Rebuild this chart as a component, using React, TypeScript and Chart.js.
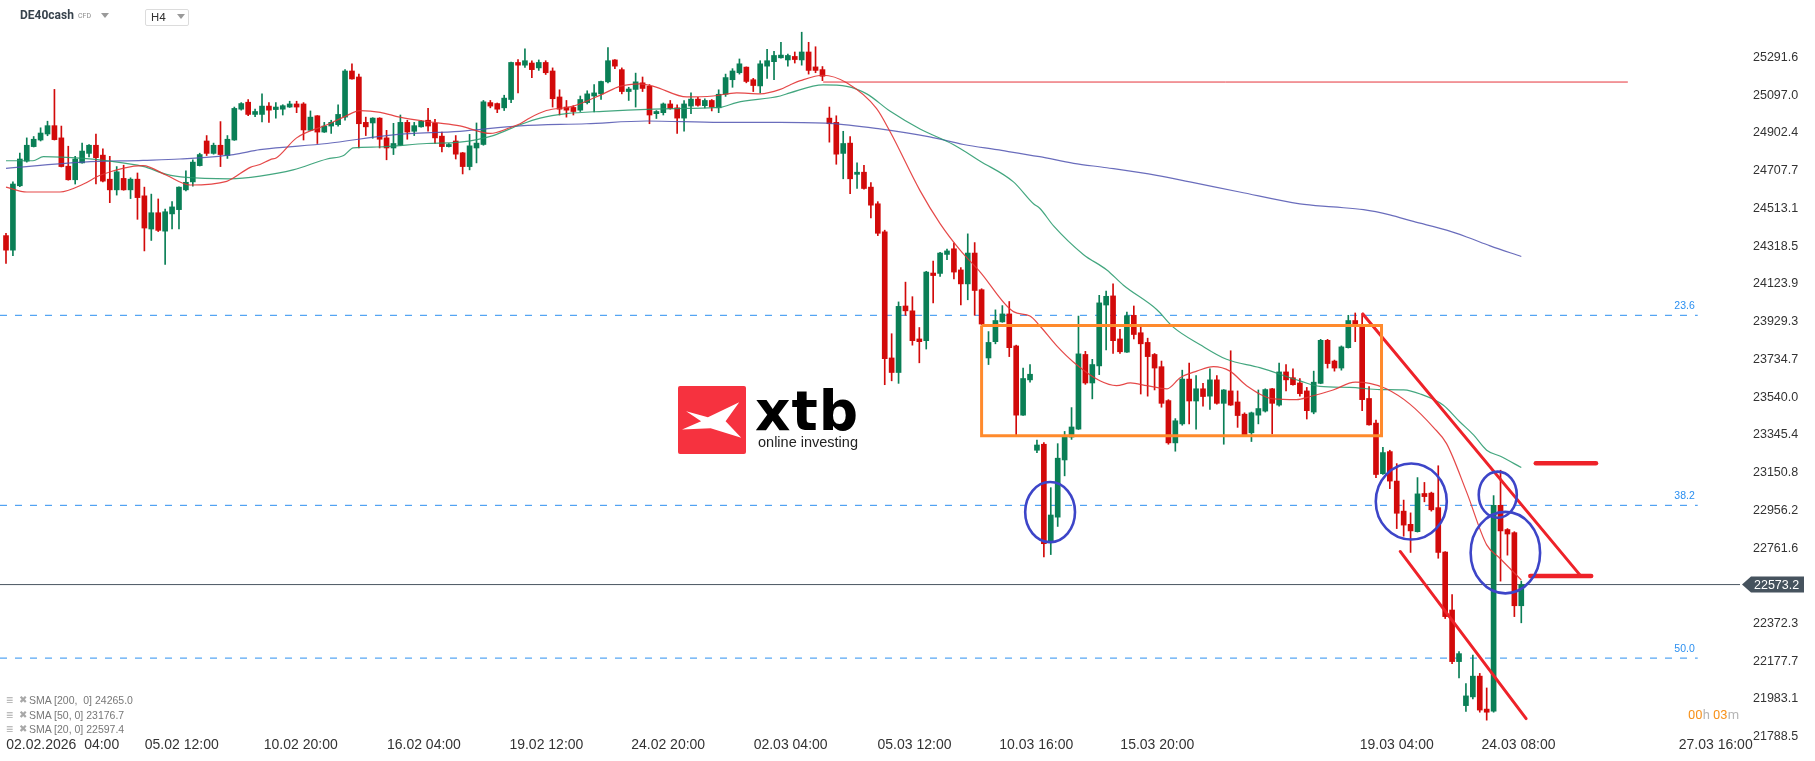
import React, { useEffect, useRef } from 'react';
import { Chart, registerables } from 'chart.js';

Chart.register(...registerables);

// ---------- candle data (H4, index 0..219) ----------
const OPEN = [
  24373,24298,24630,24757,24832,24866,24897,24940,24877,24731,
  24661,24748,24797,24839,24788,24664,24609,24668,24609,24664,
  24578,24407,24491,24396,24485,24507,24609,24650,24734,24861,
  24797,24839,24786,24866,25025,25061,24998,24998,25041,25023,
  25025,25036,25052,25052,24916,24991,24907,24938,24945,24984,
  25222,25191,24957,24954,24979,24877,24825,24839,24957,24911,
  24934,24968,24952,24886,24832,24861,24800,24729,24825,24843,
  25059,25054,25032,25075,25266,25252,25263,25238,25266,25222,
  25088,25036,25034,25020,25059,25093,25104,25166,25279,25229,
  25116,25127,25161,25143,25002,25007,25052,25032,24979,25041,
  25077,25043,25070,25032,25102,25177,25213,25242,25177,25145,
  25247,25270,25290,25279,25297,25279,25320,25243,25229,24979,
  24957,24797,24850,24689,24700,24623,24537,24392,23742,23667,
  24010,23985,23840,23831,24180,24178,24276,24305,24196,24124,
  24283,24094,23742,23826,23928,23969,23804,23447,23629,23266,
  23297,22789,22921,23216,23334,23375,23760,23613,23701,24015,
  24062,23840,23772,23962,23872,23822,23760,23697,23522,23304,
  23402,23633,23520,23583,23545,23629,23508,23572,23515,23452,
  23356,23447,23468,23583,23499,23670,23640,23613,23572,23463,
  23611,23833,23726,23690,23795,23935,23913,23533,23406,23145,
  23259,23107,22952,22884,22846,23043,23045,22970,22741,22442,
  22176,21949,21994,22101,21931,21920,22982,22857,22841,22464,
];
const HIGH = [
  24385,24650,24798,24877,24884,24929,24963,25127,24938,24834,
  24782,24850,24842,24897,24820,24782,24729,24736,24671,24696,
  24623,24587,24562,24510,24548,24625,24707,24764,24798,24889,
  24850,24961,24889,25036,25059,25075,25025,25104,25059,25059,
  25048,25066,25066,25059,25016,24992,24957,24968,25048,25229,
  25259,25206,24984,24981,24981,24916,24952,24995,24968,24957,
  24968,25029,24973,24907,24848,24889,24802,24895,24954,25070,
  25070,25057,25097,25268,25281,25336,25275,25279,25275,25238,
  25125,25070,25043,25093,25120,25152,25170,25343,25281,25238,
  25138,25211,25191,25152,25018,25057,25070,25048,25070,25109,
  25086,25079,25075,25125,25206,25234,25284,25243,25184,25275,
  25334,25324,25370,25309,25320,25422,25370,25347,25245,25036,
  24991,24911,24884,24748,24736,24646,24548,24401,23867,24031,
  24133,24058,23899,24189,24242,24287,24303,24335,24208,24382,
  24337,24099,23878,23990,24012,24033,23808,23690,23708,23318,
  23306,23073,23300,23363,23486,23958,23776,23735,24065,24087,
  24124,23890,23978,24010,23908,23844,23765,23726,23527,23429,
  23679,23715,23651,23611,23686,23651,23579,23779,23572,23459,
  23463,23577,23583,23585,23715,23708,23686,23636,23590,23674,
  23838,23838,23731,23804,23962,23974,23969,23595,23422,23281,
  23266,23197,23009,22943,23125,23100,23050,23186,22743,22521,
  22228,22062,22210,22115,22040,23032,23163,22862,22846,22591,
];
const LOW = [
  24230,24269,24625,24752,24830,24861,24888,24866,24727,24659,
  24639,24746,24779,24639,24650,24543,24582,24607,24564,24457,
  24294,24348,24394,24224,24407,24407,24603,24628,24732,24786,
  24793,24729,24771,24864,25020,24991,24986,24959,24957,24979,
  24995,25034,25007,24866,24914,24848,24905,24900,24938,24968,
  25180,24825,24889,24875,24825,24764,24791,24837,24870,24889,
  24932,24911,24848,24805,24830,24768,24691,24712,24748,24839,
  25032,25007,25018,25059,25109,25240,25188,25225,25204,25036,
  24995,24984,24995,25013,25052,25011,25075,25161,25234,25104,
  25070,25036,25116,24950,24977,24995,25025,24900,24911,25002,
  25041,25032,25016,25007,25091,25138,25206,25161,25116,25109,
  25184,25177,25288,25247,25263,25252,25206,25213,25172,24855,
  24741,24666,24589,24616,24612,24464,24373,23604,23624,23611,
  23962,23808,23717,23788,24026,24162,24249,24149,24015,24042,
  23962,23913,23708,23815,23926,23749,23345,23445,23617,23254,
  22716,22728,22873,23134,23322,23373,23606,23531,23656,23783,
  23765,23765,23770,23840,23556,23545,23577,23488,23297,23261,
  23395,23402,23375,23493,23477,23504,23297,23497,23384,23343,
  23311,23402,23463,23350,23493,23572,23601,23545,23427,23454,
  23609,23690,23674,23679,23793,23826,23470,23395,23125,23141,
  23068,22862,22823,22739,22844,23000,22952,22709,22398,22165,
  22092,21919,21983,21915,21874,21915,22591,22725,22408,22376,
];
const CLOSE = [
  24298,24639,24768,24839,24870,24902,24940,24868,24729,24661,
  24768,24809,24839,24775,24654,24609,24702,24609,24664,24569,
  24412,24491,24400,24496,24521,24623,24648,24752,24791,24797,
  24839,24791,24870,25029,25054,24998,25013,25041,25020,25036,
  25043,25052,25036,24918,24984,24907,24938,24957,24998,25222,
  25181,24950,24934,24979,24870,24825,24848,24957,24907,24940,
  24963,24938,24877,24832,24843,24793,24729,24836,24850,25063,
  25041,25025,25082,25266,25252,25275,25229,25266,25213,25079,
  25025,25020,25013,25075,25104,25109,25168,25275,25247,25116,
  25129,25166,25132,24995,25013,25052,25029,24979,25052,25077,
  25045,25070,25036,25102,25188,25222,25259,25168,25147,25259,
  25275,25302,25304,25302,25281,25320,25225,25225,25195,24950,
  24793,24848,24666,24700,24616,24530,24385,23738,23667,24008,
  23985,23831,23826,24185,24167,24283,24294,24185,24124,24283,
  24090,23917,23822,23935,23969,23795,23447,23636,23658,23293,
  22784,22932,23225,23334,23386,23763,23613,23708,24026,24060,
  23831,23774,23960,23863,23815,23749,23690,23508,23304,23418,
  23633,23520,23583,23543,23629,23508,23577,23499,23445,23345,
  23459,23481,23579,23508,23670,23629,23604,23558,23470,23617,
  23833,23713,23690,23799,23935,23917,23527,23397,23141,23254,
  23107,22941,22880,22850,23041,23027,22959,22739,22408,22176,
  22217,21999,22101,21926,21915,22982,22850,22834,22464,22573.2,
];

// ---------- moving averages ----------
const SMA20_X = [0,3,7.8,11.2,13.6,19.8,23.2,26.6,31.9,35.3,36.7,38.2,39.1,42,46.4,48.8,51.2,54.1,56.9,61.8,65.6,70,72.8,74.3,75.7,78.1,82,86.3,88.7,91.6,93.6,98.4,102.2,105.6,109,111.9,113.3,114.8,118.1,121.5,125.8,127.8,132.1,135,137.9,140.8,145.6,148,149.4,151.9,154.3,158.1,160.5,162.5,164.9,167.8,169.7,172.1,174.5,176.9,179.3,183.2,186.5,188.5,191.8,195,197.1,199.5,202.9,206.3,208.2,211.1,214,215.9,219];
const SMA20_Y = [24623,24598,24598,24639,24684,24734,24684,24634,24653,24725,24740,24765,24775,24877,24945,24984,25018,25009,24984,24957,24939,24900,24929,24950,24980,25018,25041,25104,25143,25156,25143,25088,25093,25109,25104,25127,25150,25172,25200,25161,25029,24907,24605,24435,24298,24185,23981,23958,23908,23803,23720,23624,23599,23613,23599,23583,23640,23674,23697,23674,23599,23531,23527,23543,23577,23617,23611,23583,23504,23384,23300,23050,22778,22709,22597];
const SMA50_X = [0,3.9,5.4,11.2,14.6,19.8,23.2,26.1,32.4,36.7,41.5,46.4,48.8,50.2,53.6,60.8,65.6,70.4,74.3,77.2,81,86.3,93.6,98.4,103.2,105.6,111.9,113.3,118.1,121.5,124.4,127.8,132.1,136.9,140.8,145.6,148.5,149.4,151.4,155.7,159.1,161.5,166.3,168.7,172.6,176.4,181.2,187,189.9,194.2,198.6,202,204.4,207.7,210.1,212.1,214,215.9,219];
const SMA50_Y = [24759,24759,24780,24771,24759,24730,24689,24673,24666,24680,24712,24768,24786,24825,24830,24848,24855,24889,24945,24979,25002,25014,25025,25029,25034,25059,25093,25109,25150,25143,25104,25014,24923,24843,24757,24650,24537,24514,24423,24276,24196,24117,23992,23901,23810,23735,23692,23624,23595,23590,23579,23577,23556,23499,23413,23345,23266,23236,23177];
const SMA200_X = [0,11.2,19.8,25.1,32.9,36.7,46.4,56,65.6,74.3,83.9,92.6,103.2,111.9,119.1,126.3,133.5,138.4,143.2,149.4,154.3,159.1,166.3,171.1,178.3,187,191.8,196.2,200,203.4,208.2,211.1,214.5,219];
const SMA200_Y = [24720,24752,24761,24768,24791,24816,24848,24893,24911,24939,24950,24964,24957,24957,24952,24923,24882,24843,24816,24780,24746,24723,24684,24650,24598,24537,24521,24507,24480,24446,24401,24366,24320,24265];

// ---------- axes ----------
const Y_TICKS = [25291.6,25097.0,24902.4,24707.7,24513.1,24318.5,24123.9,23929.3,23734.7,23540.0,23345.4,23150.8,22956.2,22761.6,22372.3,22177.7,21983.1,21788.5];
const X_TICK_POS = [8.2,25.4,42.6,60.4,78.1,95.7,113.4,131.3,148.9,166.4,201.0,218.6,247.1];
const X_TICK_LABELS = ['02.02.2026  04:00','05.02 12:00','10.02 20:00','16.02 04:00','19.02 12:00','24.02 20:00','02.03 04:00','05.03 12:00','10.03 16:00','15.03 20:00','19.03 04:00','24.03 08:00','27.03 16:00'];
const X_MIN = -0.867;
const X_MAX = 250.61;
const Y_MIN = 21787.1;
const Y_MAX = 25433.4;

// ---------- drawings ----------
const LAST_PRICE = 22573.2;
const FIB_LEVELS = [23962, 22982, 22194];
const FIB_LABELS = ['23.6', '38.2', '50.0'];
const FIB_END = 244.5;
const RES_LEVEL = 25165;
const RES_RANGE = [118.1, 234.4];
const BOX_X = [141.0, 198.8];
const BOX_Y = [23341, 23910];
const TREND_X1 = [196.1, 201.5];
const TREND_Y1 = [23969, 22744];
const TREND_X2 = [227.5, 219.7];
const TREND_Y2 = [22622, 21882];
const FLAG_X1 = [220.3, 221.1];
const FLAG_X2 = [229.1, 229.8];
const FLAG_Y = [22617, 23199];
const ELLIPSE_X = [150.9, 203.1, 215.6, 216.7];
const ELLIPSE_Y = [22947, 23002, 23037, 22738];
const ELLIPSE_RX = [3.6, 5.13, 2.75, 5.02];
const ELLIPSE_RY = [155, 196, 119, 210];
const LEGEND_ROWS = ['SMA [200,  0] 24265.0', 'SMA [50, 0] 23176.7', 'SMA [20, 0] 22597.4'];

const GREEN = '#0a7f56';
const RED = '#d20a0a';
const MARK_RED = '#ee2229';
const ORANGE = '#ff8a2c';
const FIB_BLUE = '#2b8ff0';
const CIRCLE_BLUE = '#3d45c8';
const FONT = '"Liberation Sans", Arial, sans-serif';

export default function App() {
  const ref = useRef<HTMLCanvasElement | null>(null);

  useEffect(() => {
    const canvas = ref.current;
    if (!canvas) return;
    const ids = OPEN.map((_, i) => i);
    const colors = ids.map((i) => (CLOSE[i] >= OPEN[i] ? GREEN : RED));
    const pts = (xs: number[], ys: number[]) => xs.map((x, i) => ({ x, y: ys[i] }));
    const line = (data: any[], color: string, width: number, order: number, extra: any = {}) => ({
      type: 'line',
      data,
      borderColor: color,
      backgroundColor: color,
      borderWidth: width,
      pointRadius: 0,
      pointHoverRadius: 0,
      fill: false,
      tension: 0,
      order,
      ...extra,
    });

    const datasets: any[] = [];
    datasets.push(
      line(
        [
          { x: BOX_X[0], y: BOX_Y[1] },
          { x: BOX_X[1], y: BOX_Y[1] },
          { x: BOX_X[1], y: BOX_Y[0] },
          { x: BOX_X[0], y: BOX_Y[0] },
          { x: BOX_X[0], y: BOX_Y[1] },
        ],
        ORANGE,
        3,
        0,
        { borderJoinStyle: 'miter' }
      )
    );
    TREND_X1.forEach((x1, k) =>
      datasets.push(
        line([{ x: x1, y: TREND_Y1[k] }, { x: TREND_X2[k], y: TREND_Y2[k] }], MARK_RED, 3, 0, { borderCapStyle: 'round' })
      )
    );
    FLAG_X1.forEach((x1, k) =>
      datasets.push(
        line([{ x: x1, y: FLAG_Y[k] }, { x: FLAG_X2[k], y: FLAG_Y[k] }], MARK_RED, 4.5, 0, { borderCapStyle: 'round' })
      )
    );
    datasets.push(line(pts(SMA20_X, SMA20_Y), 'rgba(226,52,52,0.9)', 1.2, 1, { cubicInterpolationMode: 'monotone' }));
    datasets.push(line(pts(SMA50_X, SMA50_Y), 'rgba(34,150,105,0.85)', 1.2, 1, { cubicInterpolationMode: 'monotone' }));
    datasets.push(line(pts(SMA200_X, SMA200_Y), 'rgba(80,84,176,0.85)', 1.2, 1, { cubicInterpolationMode: 'monotone' }));
    datasets.push({
      type: 'bar',
      data: ids.map((i) => ({ x: i, y: [OPEN[i], CLOSE[i]] })),
      backgroundColor: colors,
      borderWidth: 0,
      barThickness: 5,
      minBarLength: 1,
      grouped: false,
      order: 2,
    });
    datasets.push({
      type: 'bar',
      data: ids.map((i) => ({ x: i, y: [LOW[i], HIGH[i]] })),
      backgroundColor: colors,
      borderWidth: 0,
      barThickness: 1,
      grouped: false,
      order: 3,
    });
    FIB_LEVELS.forEach((lv) =>
      datasets.push(line([{ x: X_MIN, y: lv }, { x: FIB_END, y: lv }], FIB_BLUE, 1, 5, { borderDash: [7, 8] }))
    );
    datasets.push(line([{ x: X_MIN, y: LAST_PRICE }, { x: X_MAX, y: LAST_PRICE }], '#4a5661', 1, 5));
    datasets.push(line([{ x: RES_RANGE[0], y: RES_LEVEL }, { x: RES_RANGE[1], y: RES_LEVEL }], '#e5343b', 1, 5));

    const overlay = {
      id: 'overlay',
      afterDatasetsDraw(chart: any) {
        const { ctx, chartArea } = chart;
        const xs = chart.scales.x;
        const ys = chart.scales.y;
        ctx.save();
        ctx.beginPath();
        ctx.rect(chartArea.left, chartArea.top, chartArea.right - chartArea.left, chartArea.bottom - chartArea.top);
        ctx.clip();
        ctx.strokeStyle = CIRCLE_BLUE;
        ctx.lineWidth = 2.6;
        ELLIPSE_X.forEach((cxv, k) => {
          const cx = xs.getPixelForValue(cxv);
          const cy = ys.getPixelForValue(ELLIPSE_Y[k]);
          const rx = Math.abs(xs.getPixelForValue(cxv + ELLIPSE_RX[k]) - cx);
          const ry = Math.abs(ys.getPixelForValue(ELLIPSE_Y[k] + ELLIPSE_RY[k]) - cy);
          ctx.beginPath();
          ctx.ellipse(cx, cy, rx, ry, 0, 0, Math.PI * 2);
          ctx.stroke();
        });
        ctx.fillStyle = FIB_BLUE;
        ctx.font = '10.5px ' + FONT;
        ctx.textAlign = 'right';
        ctx.textBaseline = 'bottom';
        const fx = xs.getPixelForValue(FIB_END) - 3;
        FIB_LEVELS.forEach((lv, k) => {
          ctx.fillText(FIB_LABELS[k], fx, ys.getPixelForValue(lv) - 4);
        });
        ctx.restore();
      },
      afterDraw(chart: any) {
        const { ctx, chartArea } = chart;
        const ys = chart.scales.y;
        const y = ys.getPixelForValue(LAST_PRICE);
        const x0 = chartArea.right + 2;
        ctx.save();
        ctx.fillStyle = '#46535e';
        ctx.beginPath();
        ctx.moveTo(x0, y);
        ctx.lineTo(x0 + 9, y - 8);
        ctx.lineTo(x0 + 62, y - 8);
        ctx.lineTo(x0 + 62, y + 8);
        ctx.lineTo(x0 + 9, y + 8);
        ctx.closePath();
        ctx.fill();
        ctx.fillStyle = '#ffffff';
        ctx.font = '12.5px ' + FONT;
        ctx.textAlign = 'left';
        ctx.textBaseline = 'middle';
        ctx.fillText(LAST_PRICE.toFixed(1), x0 + 12, y + 0.5);
        ctx.restore();
      },
    };

    const chart = new Chart(canvas, {
      type: 'bar',
      data: { datasets },
      options: {
        animation: false,
        responsive: false,
        devicePixelRatio: 1,
        events: [],
        layout: { padding: { top: 30, left: 0, right: 0, bottom: 0 } },
        plugins: { legend: { display: false }, tooltip: { enabled: false } },
        scales: {
          x: {
            type: 'linear',
            min: X_MIN,
            max: X_MAX,
            bounds: 'data',
            offset: false,
            grid: { display: false, drawTicks: false },
            border: { display: false },
            afterBuildTicks: (scale: any) => {
              scale.ticks = X_TICK_POS.map((v) => ({ value: v }));
            },
            afterFit: (scale: any) => {
              scale.height = 24;
            },
            ticks: {
              autoSkip: false,
              maxRotation: 0,
              padding: 0,
              color: '#333333',
              font: { family: FONT, size: 14 },
              callback: (_v: any, i: number) => X_TICK_LABELS[i],
            },
          },
          y: {
            type: 'linear',
            position: 'right',
            min: Y_MIN,
            max: Y_MAX,
            bounds: 'data',
            beginAtZero: false,
            grid: { display: false, drawTicks: false },
            border: { display: false },
            afterBuildTicks: (scale: any) => {
              scale.ticks = Y_TICKS.map((v) => ({ value: v }));
            },
            afterFit: (scale: any) => {
              scale.width = 75;
            },
            ticks: {
              padding: 13,
              color: '#333333',
              font: { family: FONT, size: 12.5 },
              callback: (v: any) => Number(v).toFixed(1),
            },
          },
        },
      } as any,
      plugins: [overlay],
    } as any);

    return () => chart.destroy();
  }, []);

  const tri = (left: number, top: number) => (
    <svg style={{ position: 'absolute', left, top }} width="8" height="5" viewBox="0 0 8 5">
      <polygon points="0,0 8,0 4,5" fill="#9a9a9a" />
    </svg>
  );

  return (
    <div
      style={{
        position: 'fixed',
        left: 0,
        top: 0,
        width: 1815,
        height: 761,
        background: '#ffffff',
        overflow: 'hidden',
      }}
    >
      <canvas ref={ref} width={1815} height={761} style={{ position: 'absolute', left: 0, top: 0, width: 1815, height: 761 }} />

      {/* header */}
      <div style={{ position: 'absolute', left: 20, top: 8, font: 'bold 12px Roboto, sans-serif', color: '#37424c' }}>DE40cash</div>
      <div style={{ position: 'absolute', left: 78, top: 12, font: '7px Roboto, sans-serif', color: '#8b8b8b' }}>CFD</div>
      {tri(101, 13)}
      <div
        style={{
          position: 'absolute',
          left: 145,
          top: 9,
          width: 42,
          height: 15,
          border: '1px solid #dcdcdc',
          borderRadius: 2,
        }}
      />
      <div style={{ position: 'absolute', left: 151, top: 10, font: '11.5px Roboto, sans-serif', color: '#333' }}>H4</div>
      {tri(177, 14)}

      {/* logo */}
      <div style={{ position: 'absolute', left: 678, top: 386, width: 68, height: 68, background: '#f6323f', borderRadius: 2 }}>
        <svg width="68" height="68" viewBox="0 0 100 100">
          <polygon points="12,37 44,46 90,24 70,52 93,76 48,62 6,64 34,52" fill="#ffffff" />
        </svg>
      </div>
      <div
        style={{
          position: 'absolute',
          left: 755,
          top: 381,
          font: 'bold 55px "DejaVu Sans", sans-serif',
          lineHeight: '60px',
          letterSpacing: 1,
          color: '#000',
        }}
      >
        xtb
      </div>
      <div style={{ position: 'absolute', left: 758, top: 434, font: '14.5px "Liberation Sans", Arial, sans-serif', color: '#222' }}>
        online investing
      </div>

      {/* indicator legend */}
      <div style={{ position: 'absolute', left: 6, top: 693, font: '10.5px "Liberation Sans", Arial, sans-serif', color: '#777', lineHeight: '14.5px', whiteSpace: 'pre' }}>
        {LEGEND_ROWS.map((r) => (
          <div key={r} style={{ display: 'flex', alignItems: 'center' }}>
            <span style={{ display: 'inline-block', width: 13, color: '#a8a8a8', fontSize: 12 }}>{'≡'}</span>
            <span style={{ display: 'inline-block', width: 10, color: '#a8a8a8', fontSize: 10 }}>{'✖'}</span>
            <span>{r}</span>
          </div>
        ))}
      </div>

      {/* countdown */}
      <div style={{ position: 'absolute', left: 1688, top: 707, font: '13px Roboto, sans-serif', whiteSpace: 'pre' }}>
        <span style={{ color: '#f7931e' }}>00</span>
        <span style={{ color: '#b5b5b5' }}>h </span>
        <span style={{ color: '#f7931e' }}>03</span>
        <span style={{ color: '#b5b5b5' }}>m</span>
      </div>
    </div>
  );
}
